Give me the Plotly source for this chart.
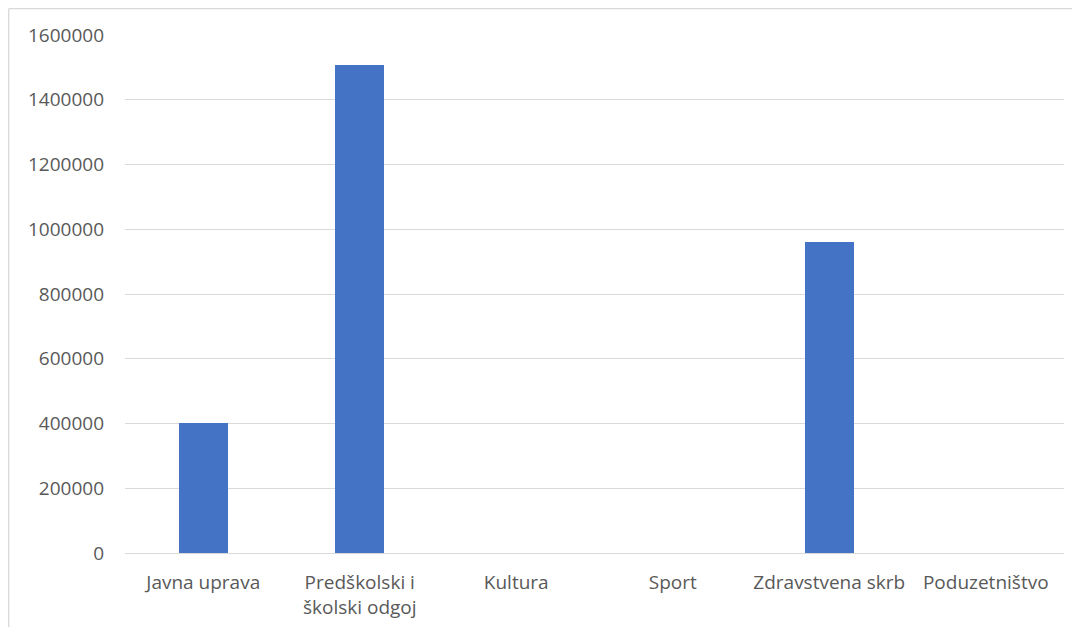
import plotly.graph_objects as go

categories = ["Javna uprava", "Predškolski i<br>školski odgoj", "Kultura", "Sport",
              "Zdravstvena skrb", "Poduzetništvo"]
values = [402000, 1508000, 0, 0, 960000, 0]
tick_vals = [0, 200000, 400000, 600000, 800000, 1000000, 1200000, 1400000, 1600000]
tick_text = [str(v) for v in tick_vals]

# page body adds an 8px margin on every side; figure sized to fit inside
W, H = 1064, 619
L, R, T, B = 117, 8, 27, 74
pw, ph = W - L - R, H - T - B

fig = go.Figure(go.Bar(x=categories, y=values, marker_color="#4472C4",
                       marker_line_width=0, width=0.313))

font_family = "Open Sans"
fs = 19
fig.update_layout(
    width=W, height=H,
    margin=dict(l=L, r=R, t=T, b=B, autoexpand=False),
    paper_bgcolor="white", plot_bgcolor="white",
    showlegend=False,
    font=dict(family=font_family, color="#595959", size=fs),
    bargap=0,
)
fig.update_xaxes(showgrid=False, showline=False, zeroline=False, ticks="",
                 tickfont=dict(size=fs, color="#595959"), ticklabelstandoff=16)
fig.update_yaxes(range=[0, 1600000], tickvals=tick_vals, ticktext=tick_text,
                 showgrid=True, gridcolor="#D9D9D9", gridwidth=1.3,
                 zeroline=True, zerolinecolor="#D9D9D9", zerolinewidth=1.3,
                 showline=False, ticks="", ticklabelstandoff=20,
                 tickfont=dict(size=fs, color="#595959"))

# chart-area border (top and left edges visible)
bx0 = (0.7 - L) / pw
by_top = 1 + (T - 0.7) / ph
fig.add_shape(type="line", xref="paper", yref="paper", x0=bx0, x1=1 + (R + 5) / pw,
              y0=by_top, y1=by_top, line=dict(color="#D9D9D9", width=1.3))
fig.add_shape(type="line", xref="paper", yref="paper", x0=bx0, x1=bx0,
              y0=by_top, y1=-(B + 5) / ph, line=dict(color="#D9D9D9", width=1.3))

fig.write_html("out.html")
